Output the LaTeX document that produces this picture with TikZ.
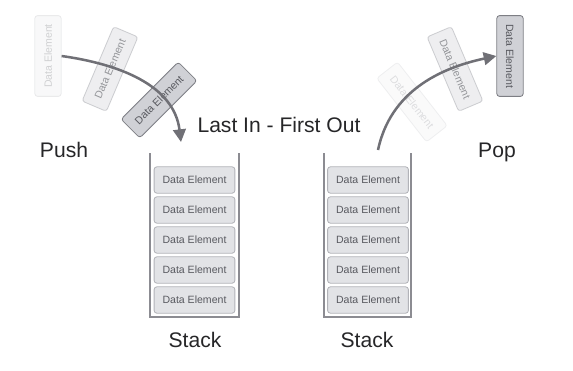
\documentclass[tikz,border=0pt]{standalone}
\usepackage{fontspec}
\setmainfont{Liberation Sans}
\usetikzlibrary{arrows.meta}
\definecolor{elemfill}{RGB}{226,227,230}
\definecolor{elemdraw}{RGB}{178,179,184}
\definecolor{elemtext}{RGB}{88,89,95}
\definecolor{movefill}{RGB}{208,209,214}
\definecolor{movedraw}{RGB}{125,126,132}
\definecolor{wallgray}{RGB}{140,140,146}
\definecolor{arrowgray}{RGB}{112,112,118}
\definecolor{labeltext}{RGB}{38,38,40}
\tikzset{
  elem/.style={draw=elemdraw, fill=elemfill, text=elemtext, rounded corners=2pt, line width=0.6pt,
    minimum width=2.02cm, minimum height=0.66cm, inner sep=0pt,
    font=\fontsize{7.5}{9}\selectfont},
  moving/.style={elem, draw=movedraw, fill=movefill},
  title/.style={text=labeltext, font=\fontsize{15}{18}\selectfont},
  wall/.style={draw=wallgray, line width=0.9pt},
  move/.style={draw=arrowgray, line width=1.8pt, -{Triangle[length=9pt, width=9pt]}}
}
\begin{document}
\begin{tikzpicture}[x=0.025cm, y=0.025cm]
\useasboundingbox (0,0) rectangle (573,-370);
% floating elements on the push side
\node[elem, rotate=90, opacity=0.25] (pushA) at (48,-56) {Data Element};
\node[elem, rotate=67, opacity=0.6] (pushB) at (110,-69) {Data Element};
\node[moving, rotate=45] (pushC) at (159,-100) {Data Element};
% floating elements on the pop side
\node[elem, rotate=-52, opacity=0.18] (popA) at (412,-102) {Data Element};
\node[elem, rotate=-67, opacity=0.6] (popB) at (455,-69) {Data Element};
\node[moving, rotate=-90] (popC) at (510,-56) {Data Element};
% left stack
\draw[wall] (150,-153) -- (150,-317) -- (239,-317) -- (239,-153);
\node[elem] (left1) at (194.5,-180) {Data Element};
\node[elem] (left2) at (194.5,-210) {Data Element};
\node[elem] (left3) at (194.5,-240) {Data Element};
\node[elem] (left4) at (194.5,-270) {Data Element};
\node[elem] (left5) at (194.5,-300) {Data Element};
% right stack
\draw[wall] (324,-153) -- (324,-317) -- (411,-317) -- (411,-153);
\node[elem] (right1) at (368,-180) {Data Element};
\node[elem] (right2) at (368,-210) {Data Element};
\node[elem] (right3) at (368,-240) {Data Element};
\node[elem] (right4) at (368,-270) {Data Element};
\node[elem] (right5) at (368,-300) {Data Element};
% labels
\node[title] (lifo) at (279,-125) {Last In - First Out};
\node[title] (push) at (64,-150) {Push};
\node[title] (pop) at (497,-152) {Pop};
\node[title] (leftname) at (195,-340) {Stack};
\node[title] (rightname) at (367,-340) {Stack};
% arrows
\coordinate (pushend) at (181,-142);
\coordinate (popstart) at (378,-150);
\draw[move] (pushA.south) to[out=-8, in=97] (pushend);
\draw[move] (popstart) to[out=78, in=192] (popC.south);
\end{tikzpicture}
\end{document}
